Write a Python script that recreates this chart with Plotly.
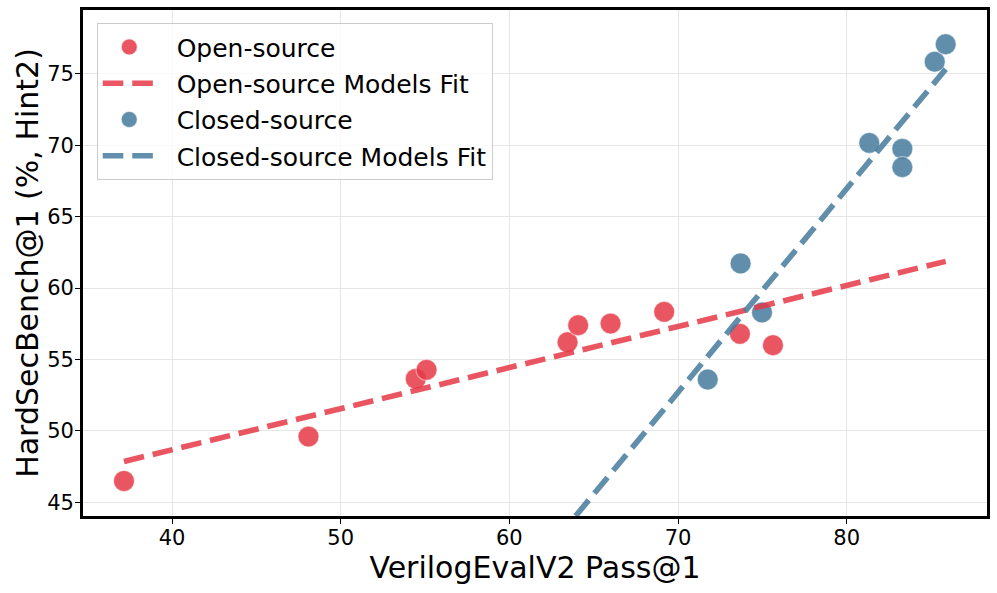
import numpy as np
import plotly.graph_objects as go

# Data
open_x = [37.15, 48.09, 54.45, 55.09, 63.45, 64.08, 66.0, 69.18, 73.67, 75.63]
open_y = [46.49, 49.6, 53.65, 54.28, 56.21, 57.4, 57.52, 58.34, 56.8, 56.0]
closed_x = [71.76, 74.98, 73.71, 81.34, 83.3, 83.3, 85.22, 85.87]
closed_y = [53.6, 58.3, 61.73, 70.17, 69.76, 68.47, 75.86, 77.08]

x_ticks = [40, 50, 60, 70, 80]
y_ticks = [45, 50, 55, 60, 65, 70, 75]

RED = "#E63946"
BLUE = "#457B9D"
FONT = "DejaVu Sans"
PAD = "\u00a0\u00a0"

all_x = np.array(open_x + closed_x)
fit_x = np.array([all_x.min(), all_x.max()])
po = np.polyfit(open_x, open_y, 1)
pc = np.polyfit(closed_x, closed_y, 1)

fig = go.Figure()
marker_line = dict(color="rgba(255,255,255,0.5)", width=1.2)
fig.add_trace(go.Scatter(x=open_x, y=open_y, mode="markers", name=PAD + "Open-source",
                         marker=dict(color=RED, size=21, opacity=0.85, line=marker_line),
                         legendrank=1, legendgroup="g1"))
fig.add_trace(go.Scatter(x=closed_x, y=closed_y, mode="markers", name=PAD + "Closed-source",
                         marker=dict(color=BLUE, size=21, opacity=0.85, line=marker_line),
                         legendrank=3, legendgroup="g3"))
fig.add_trace(go.Scatter(x=fit_x, y=np.polyval(po, fit_x), mode="lines",
                         name=PAD + "Open-source Models Fit", opacity=0.85,
                         line=dict(color=RED, width=5.6, dash="20.6px,8.9px"),
                         legendrank=2, legendgroup="g2"))
fig.add_trace(go.Scatter(x=fit_x, y=np.polyval(pc, fit_x), mode="lines",
                         name=PAD + "Closed-source Models Fit", opacity=0.85,
                         line=dict(color=BLUE, width=5.6, dash="20.6px,8.9px"),
                         legendrank=4, legendgroup="g4"))

axis_common = dict(showline=True, linewidth=2.8, linecolor="black", mirror=True,
                   ticks="outside", ticklen=5, tickwidth=1.1, tickcolor="black",
                   showgrid=True, gridcolor="#e6e6e6", gridwidth=1.1, zeroline=False,
                   automargin=False,
                   tickfont=dict(family=FONT, size=21, color="black"))

fig.update_layout(
    width=997, height=593,
    margin=dict(l=83, r=10, t=10, b=77),
    paper_bgcolor="white", plot_bgcolor="white",
    font=dict(family=FONT, color="black"),
    xaxis=dict(range=[34.72, 88.32], tickvals=x_ticks, ticklabelstandoff=-4,
               title=dict(text="VerilogEvalV2 Pass@1", font=dict(family=FONT, size=30), standoff=0),
               **axis_common),
    yaxis=dict(range=[44.04, 79.48], tickvals=y_ticks, ticklabelstandoff=-3,
               title=dict(text="HardSecBench@1 (%, Hint2)", font=dict(family=FONT, size=30), standoff=0),
               **axis_common),
    legend=dict(x=0.0152, y=0.974, xanchor="left", yanchor="top",
                bgcolor="rgba(255,255,255,0.8)", bordercolor="#cccccc", borderwidth=1,
                font=dict(family=FONT, size=25, color="black"), itemwidth=53,
                tracegroupgap=0.8),
    showlegend=True,
)

fig.write_html("out.html", config={"displayModeBar": False},
               post_script="document.body.style.margin='0';document.body.style.overflow='hidden';")
